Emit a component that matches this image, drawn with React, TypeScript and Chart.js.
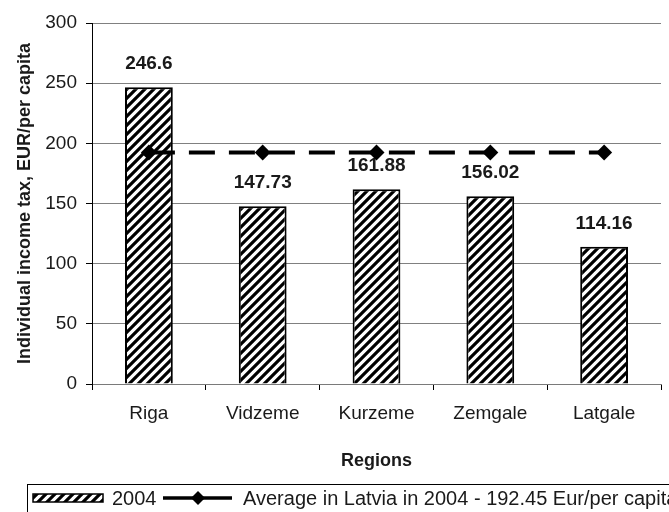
import React, { useEffect, useRef } from "react";
import { Chart, registerables } from "chart.js";

Chart.register(...registerables);

const categories = ["Riga", "Vidzeme", "Kurzeme", "Zemgale", "Latgale"];
const taxValues = [246.6, 147.73, 161.88, 156.02, 114.16];
const valueLabels = ["246.6", "147.73", "161.88", "156.02", "114.16"];
const averageSeries = [192.45, 192.45, 192.45, 192.45, 192.45];
const yMin = 0;
const yMax = 300;
const yStep = 50;
const barLabel = "2004";
const lineLabel = "Average in Latvia in 2004 - 192.45 Eur/per capita";
const yTitle = "Individual income tax, EUR/per capita";
const xTitle = "Regions";

const FONT = "'Liberation Sans', Arial, Helvetica, sans-serif";
const TEXT = "#1a1a1a";

function makeHatch(ctx: CanvasRenderingContext2D): CanvasPattern {
  const size = 9;
  const c = document.createElement("canvas");
  c.width = size;
  c.height = size;
  const g = c.getContext("2d")!;
  g.fillStyle = "#ffffff";
  g.fillRect(0, 0, size, size);
  g.strokeStyle = "#000000";
  g.lineWidth = 3.2;
  g.beginPath();
  for (const k of [0, size, 2 * size]) {
    g.moveTo(k - size - 2, size + 2);
    g.lineTo(k + 2, -2);
  }
  g.stroke();
  return ctx.createPattern(c, "repeat")!;
}

function drawDiamond(ctx: CanvasRenderingContext2D, x: number, y: number, r: number) {
  ctx.beginPath();
  ctx.moveTo(x - r, y);
  ctx.lineTo(x, y - r);
  ctx.lineTo(x + r, y);
  ctx.lineTo(x, y + r);
  ctx.closePath();
  ctx.fill();
}

const valueLabelPlugin = {
  id: "valueLabels",
  afterDatasetDraw(chart: any, args: any) {
    if (args.index !== 0) return;
    const ctx = chart.ctx as CanvasRenderingContext2D;
    ctx.save();
    ctx.font = `bold 19px ${FONT}`;
    ctx.fillStyle = TEXT;
    ctx.textAlign = "center";
    ctx.textBaseline = "middle";
    args.meta.data.forEach((el: any, i: number) => {
      ctx.fillText(valueLabels[i], el.x, el.y - 23);
    });
    ctx.restore();
  },
};

const legendPlugin = {
  id: "boxLegend",
  afterDraw(chart: any) {
    const ctx = chart.ctx as CanvasRenderingContext2D;
    const pattern = makeHatch(ctx);
    const top = 484;
    const cy = 498;
    ctx.save();
    ctx.strokeStyle = "#000";
    ctx.lineWidth = 1;
    ctx.strokeRect(27.5, top + 0.5, 700, 60);
    // bar swatch
    ctx.fillStyle = pattern;
    ctx.fillRect(33, cy - 4, 70, 8);
    ctx.lineWidth = 1.5;
    ctx.strokeRect(33, cy - 4, 70, 8);
    ctx.font = `20px ${FONT}`;
    ctx.fillStyle = TEXT;
    ctx.textAlign = "left";
    ctx.textBaseline = "middle";
    ctx.fillText(barLabel, 112, cy + 1);
    // line swatch
    ctx.strokeStyle = "#000";
    ctx.lineWidth = 3.5;
    ctx.beginPath();
    ctx.moveTo(163, cy);
    ctx.lineTo(232, cy);
    ctx.stroke();
    ctx.fillStyle = "#000";
    drawDiamond(ctx, 198, cy, 7);
    ctx.fillStyle = TEXT;
    ctx.fillText(lineLabel, 243, cy + 1);
    ctx.restore();
  },
};

export default function App() {
  const ref = useRef<HTMLCanvasElement | null>(null);

  useEffect(() => {
    document.body.style.margin = "0";
    const canvas = ref.current!;
    const ctx = canvas.getContext("2d")!;
    const pattern = makeHatch(ctx);
    const chart = new Chart(canvas, {
      type: "bar",
      data: {
        labels: categories,
        datasets: [
          {
            type: "bar",
            label: barLabel,
            data: taxValues,
            backgroundColor: pattern,
            borderColor: "#000",
            borderWidth: 2,
            barPercentage: 0.42,
            categoryPercentage: 1,
            order: 1,
          },
          {
            type: "line",
            label: lineLabel,
            data: averageSeries,
            borderColor: "#000",
            backgroundColor: "#000",
            borderWidth: 4,
            borderDash: [26, 14],
            pointStyle: "rectRot",
            pointRadius: 8,
            pointBorderWidth: 0,
            pointBackgroundColor: "#000",
            fill: false,
            order: 0,
          } as any,
        ],
      },
      options: {
        responsive: false,
        animation: false,
        layout: { padding: { left: 0, right: 6, top: 23, bottom: 0 } },
        plugins: {
          legend: { display: false },
          tooltip: { enabled: false },
        },
        scales: {
          x: {
            grid: {
              display: true,
              offset: true,
              drawOnChartArea: false,
              drawTicks: true,
              tickLength: 6,
              color: "#000",
            },
            border: { color: "#7a7a7a", width: 1 },
            ticks: { font: { family: FONT, size: 19 }, color: TEXT, padding: 12 },
            title: {
              display: true,
              text: xTitle,
              font: { family: FONT, size: 18, weight: "bold" },
              color: TEXT,
              padding: { top: 0, bottom: 40 },
            },
            afterFit: (s: any) => {
              s.height = 128;
            },
          },
          y: {
            min: yMin,
            max: yMax,
            ticks: { stepSize: yStep, font: { family: FONT, size: 19 }, color: TEXT, padding: 9 },
            grid: { color: "#808080", tickLength: 6, tickColor: "#000", lineWidth: 1 },
            border: { color: "#000", width: 1 },
            title: {
              display: true,
              text: yTitle,
              font: { family: FONT, size: 18, weight: "bold" },
              color: TEXT,
              padding: { top: 14, bottom: 0 },
            },
            afterFit: (s: any) => {
              s.width = 92;
            },
          },
        },
      },
      plugins: [valueLabelPlugin, legendPlugin],
    });
    return () => chart.destroy();
  }, []);

  return <canvas ref={ref} width={669} height={512} style={{ display: "block" }} />;
}
